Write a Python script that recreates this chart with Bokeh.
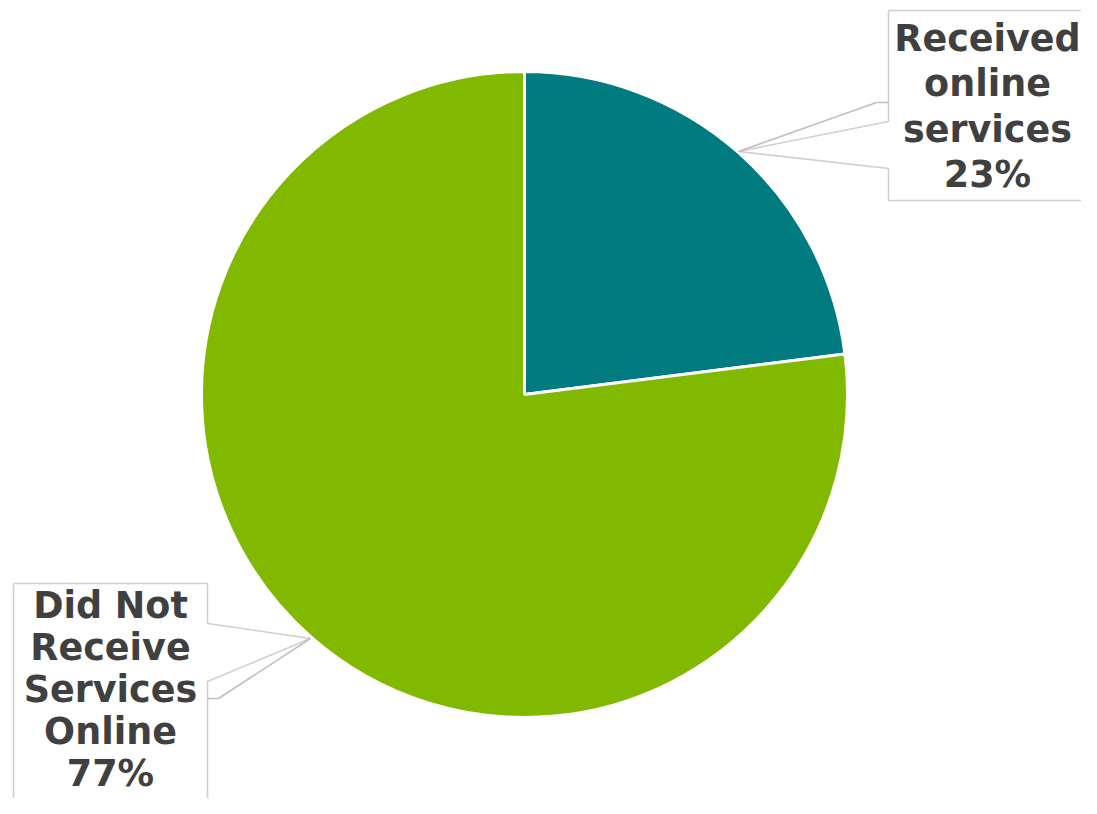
import math
from bokeh.plotting import figure
from bokeh.models import Range1d
from bokeh.core.properties import value
from bokeh.embed import file_html
from bokeh.resources import INLINE

# ---- data ----
categories = ["Received online services", "Did Not Receive Services Online"]
values = [23, 77]
colors = ["#007C80", "#80B900"]
label_lines = [["Received", "online", "services"],
               ["Did Not", "Receive", "Services", "Online"]]

# ---- layout (reference pixel coords; y measured from top) ----
W, H = 1081, 798
TXT_FIX = 14  # renderer baseline offset correction


def Y(yref):
    return H - yref


p = figure(width=W, height=H, output_backend="svg", toolbar_location=None,
           x_range=Range1d(0, W), y_range=Range1d(0, H),
           min_border=0)
p.axis.visible = False
p.grid.visible = False
p.outline_line_color = None
p.background_fill_color = "white"
p.border_fill_color = "white"

cx, cy, r = 524, Y(394), 323
total = sum(values)
starts, ends = [], []
acc = 0.0
for v in values:
    a0 = math.pi / 2 - 2 * math.pi * (acc + v) / total
    a1 = math.pi / 2 - 2 * math.pi * acc / total
    starts.append(a0)
    ends.append(a1)
    acc += v

p.wedge(x=[cx] * len(values), y=[cy] * len(values), radius=r,
        start_angle=starts, end_angle=ends, fill_color=colors,
        line_color="white", line_width=3)

# callout boxes and leaders
box_col = "#cfcfcf"
lead_col = "#bfbfbf"
bx = 888  # right callout box left edge
box_xs = [
    [bx, 1120], [bx, bx], [bx, 738, bx], [bx, bx], [bx, 1120],
    [13, 207], [13, 13], [207, 207], [207, 310, 207], [207, 207],
]
box_ys = [
    [10, 10], [10, 121], [121, 151, 168], [168, 200], [200, 200],
    [583, 583], [583, 830], [583, 623], [623, 638, 681], [681, 830],
]
p.multi_line(xs=box_xs, ys=[[Y(v) for v in ys] for ys in box_ys],
             line_color=box_col, line_width=1.6)
lead_xs = [[bx, bx - 12, 738], [207, 218, 310]]
lead_ys = [[102, 102, 151], [698, 698, 638]]
p.multi_line(xs=lead_xs, ys=[[Y(v) for v in ys] for ys in lead_ys],
             line_color=lead_col, line_width=1.6)

# labels
label_x = [987, 110]
label_top_baseline = [51.5, 619]
line_step = [45.6, 42.0]
tx, ty, tt = [], [], []
for i, lines in enumerate(label_lines):
    all_lines = lines + [f"{values[i]}%"]
    for j, s in enumerate(all_lines):
        tx.append(label_x[i])
        ty.append(Y(label_top_baseline[i] + j * line_step[i] - TXT_FIX))
        tt.append(s)

p.text(x=tx, y=ty, text=tt, text_font=value("DejaVu Sans"),
       text_font_style="bold", text_font_size="36.5px", text_align="center",
       text_baseline="alphabetic", text_color="#404040")

open("out.html", "w").write(file_html(p, INLINE))
